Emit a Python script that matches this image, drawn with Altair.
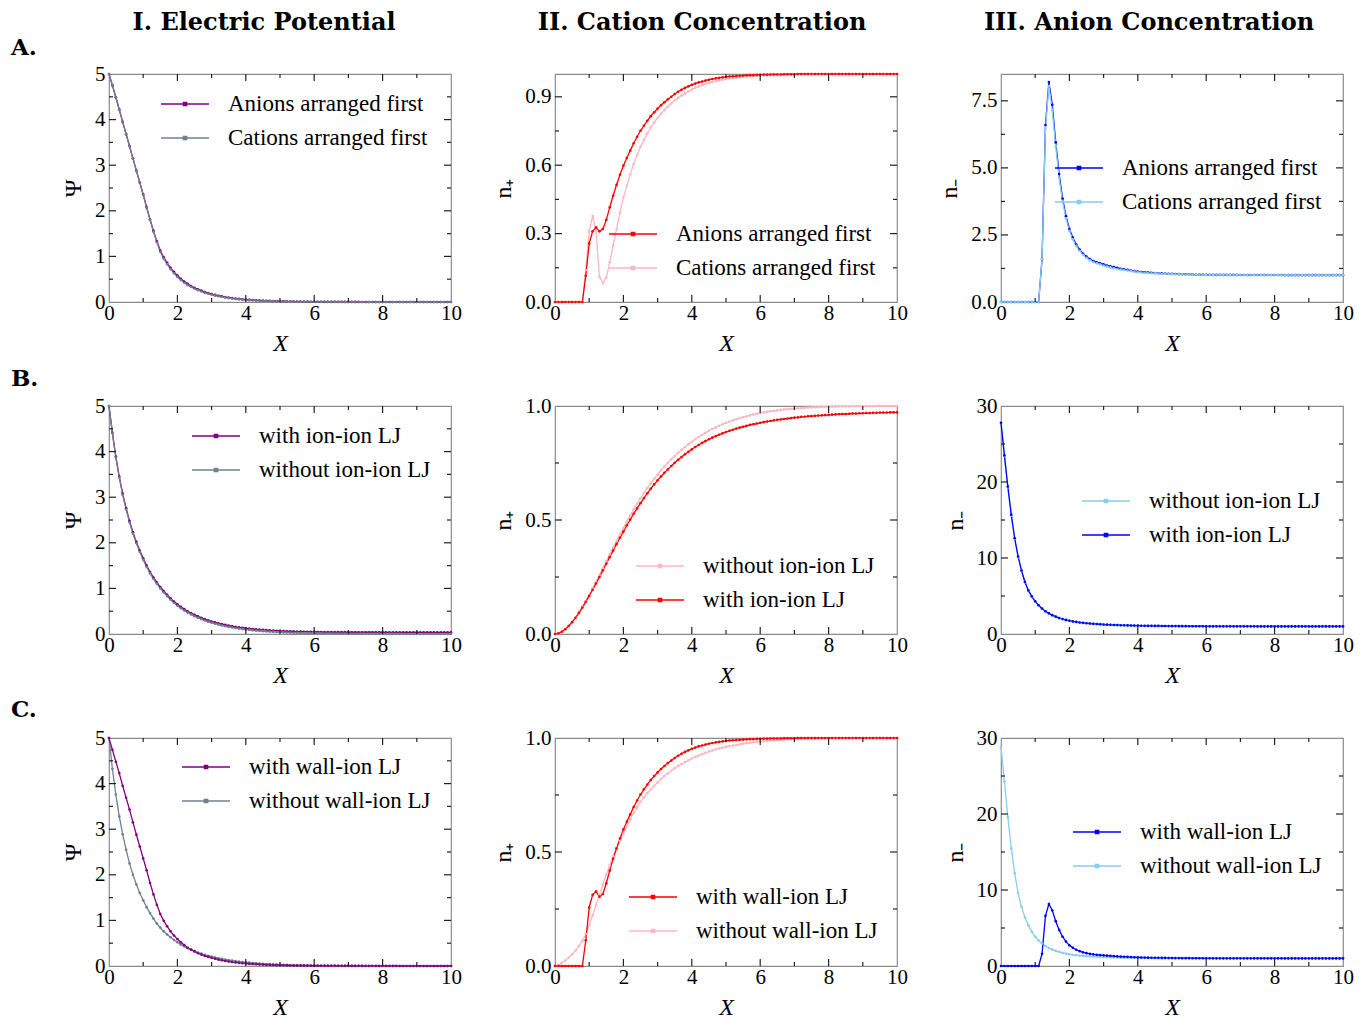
import altair as alt
import pandas as pd

# ---------------- data ----------------
X = [0.0, 0.1, 0.2, 0.3, 0.4, 0.5, 0.6, 0.7, 0.8, 0.9,
     1.0, 1.1, 1.2, 1.3, 1.4, 1.5, 1.6, 1.7, 1.8, 1.9,
     2.0, 2.1, 2.2, 2.3, 2.4, 2.5, 2.6, 2.7, 2.8, 2.9,
     3.0, 3.1, 3.2, 3.3, 3.4, 3.5, 3.6, 3.7, 3.8, 3.9,
     4.0, 4.1, 4.2, 4.3, 4.4, 4.5, 4.6, 4.7, 4.8, 4.9,
     5.0, 5.1, 5.2, 5.3, 5.4, 5.5, 5.6, 5.7, 5.8, 5.9,
     6.0, 6.1, 6.2, 6.3, 6.4, 6.5, 6.6, 6.7, 6.8, 6.9,
     7.0, 7.1, 7.2, 7.3, 7.4, 7.5, 7.6, 7.7, 7.8, 7.9,
     8.0, 8.1, 8.2, 8.3, 8.4, 8.5, 8.6, 8.7, 8.8, 8.9,
     9.0, 9.1, 9.2, 9.3, 9.4, 9.5, 9.6, 9.7, 9.8, 9.9,
     10.0]

# Row A, panel I (psi)
psi_anions_first = [
    5.00, 4.75, 4.49, 4.22, 3.95, 3.68, 3.42, 3.15, 2.88, 2.62,
    2.36, 2.08, 1.81, 1.56, 1.33, 1.13, 0.98, 0.86, 0.75, 0.66,
    0.58, 0.51, 0.45, 0.40, 0.35, 0.31, 0.28, 0.25, 0.22, 0.195,
    0.175, 0.155, 0.138, 0.122, 0.108, 0.096, 0.085, 0.076, 0.068, 0.060,
    0.054, 0.048, 0.043, 0.038, 0.034, 0.030, 0.027, 0.024, 0.021, 0.019,
    0.017, 0.015, 0.013, 0.012, 0.011, 0.010, 0.009, 0.008, 0.007, 0.006,
    0.006, 0.005, 0.005, 0.004, 0.004, 0.004, 0.003, 0.003, 0.003, 0.002,
    0.002, 0.002, 0.002, 0.002, 0.001, 0.001, 0.001, 0.001, 0.001, 0.001,
    0.001, 0.001, 0.001, 0.001, 0.001, 0.0, 0.0, 0.0, 0.0, 0.0,
    0.0, 0.0, 0.0, 0.0, 0.0, 0.0, 0.0, 0.0, 0.0, 0.0,
    0.0]
psi_cations_first = [
    5.00, 4.75, 4.49, 4.22, 3.95, 3.68, 3.42, 3.15, 2.88, 2.62,
    2.35, 2.07, 1.80, 1.54, 1.31, 1.10, 0.95, 0.83, 0.72, 0.63,
    0.55, 0.48, 0.42, 0.37, 0.33, 0.29, 0.26, 0.23, 0.20, 0.18,
    0.16, 0.14, 0.125, 0.11, 0.097, 0.086, 0.076, 0.067, 0.059, 0.052,
    0.046, 0.041, 0.036, 0.032, 0.028, 0.025, 0.022, 0.019, 0.017, 0.015,
    0.013, 0.012, 0.010, 0.009, 0.008, 0.007, 0.006, 0.006, 0.005, 0.004,
    0.004, 0.004, 0.003, 0.003, 0.003, 0.002, 0.002, 0.002, 0.002, 0.001,
    0.001, 0.001, 0.001, 0.001, 0.001, 0.0, 0.0, 0.0, 0.0, 0.0,
    0.0, 0.0, 0.0, 0.0, 0.0, 0.0, 0.0, 0.0, 0.0, 0.0,
    0.0, 0.0, 0.0, 0.0, 0.0, 0.0, 0.0, 0.0, 0.0, 0.0,
    0.0]

# Row A, panel II (n+)
nplus_anions_first = [
    0.0, 0.0, 0.0, 0.0, 0.0, 0.0, 0.0, 0.0, 0.0, 0.115,
    0.257, 0.31, 0.327, 0.31, 0.32, 0.36, 0.415, 0.466, 0.514, 0.558,
    0.598, 0.632, 0.664, 0.696, 0.725, 0.751, 0.773, 0.795, 0.815, 0.832,
    0.848, 0.863, 0.876, 0.889, 0.900, 0.912, 0.922, 0.931, 0.939, 0.946,
    0.952, 0.958, 0.963, 0.967, 0.971, 0.975, 0.978, 0.981, 0.983, 0.985,
    0.987, 0.989, 0.990, 0.991, 0.992, 0.993, 0.994, 0.995, 0.995, 0.996,
    0.996, 0.997, 0.997, 0.998, 0.998, 0.998, 0.998, 0.999, 0.999, 0.999,
    0.999, 1.0, 1.0, 1.0, 1.0, 1.0, 1.0, 1.0, 1.0, 1.0,
    1.0, 1.0, 1.0, 1.0, 1.0, 1.0, 1.0, 1.0, 1.0, 1.0,
    1.0, 1.0, 1.0, 1.0, 1.0, 1.0, 1.0, 1.0, 1.0, 1.0,
    1.0]
nplus_cations_first = [
    0.0, 0.0, 0.0, 0.0, 0.0, 0.0, 0.0, 0.0, 0.0, 0.14,
    0.31, 0.377, 0.31, 0.11, 0.083, 0.107, 0.174, 0.247, 0.32, 0.393,
    0.458, 0.509, 0.56, 0.605, 0.645, 0.681, 0.712, 0.74, 0.765, 0.787,
    0.807, 0.825, 0.842, 0.857, 0.871, 0.884, 0.895, 0.906, 0.915, 0.924,
    0.932, 0.939, 0.945, 0.951, 0.956, 0.961, 0.965, 0.969, 0.972, 0.975,
    0.978, 0.980, 0.982, 0.984, 0.986, 0.987, 0.989, 0.990, 0.991, 0.992,
    0.993, 0.994, 0.994, 0.995, 0.995, 0.996, 0.996, 0.997, 0.997, 0.997,
    0.998, 0.998, 0.998, 0.999, 0.999, 0.999, 0.999, 0.999, 0.999, 1.0,
    1.0, 1.0, 1.0, 1.0, 1.0, 1.0, 1.0, 1.0, 1.0, 1.0,
    1.0, 1.0, 1.0, 1.0, 1.0, 1.0, 1.0, 1.0, 1.0, 1.0,
    1.0]

# Row A, panel III (n-)
nminus_anions_first = [
    0.0, 0.0, 0.0, 0.0, 0.0, 0.0, 0.0, 0.0, 0.0, 0.0,
    0.0, 0.0, 1.6, 6.6, 8.2, 7.35, 5.95, 4.77, 3.86, 3.2,
    2.72, 2.40, 2.14, 1.95, 1.80, 1.69, 1.60, 1.53, 1.48, 1.44,
    1.40, 1.36, 1.33, 1.30, 1.27, 1.24, 1.22, 1.20, 1.17, 1.15,
    1.13, 1.12, 1.11, 1.10, 1.09, 1.08, 1.07, 1.065, 1.06, 1.055,
    1.05, 1.045, 1.04, 1.035, 1.03, 1.03, 1.025, 1.02, 1.02, 1.02,
    1.015, 1.015, 1.01, 1.01, 1.01, 1.01, 1.01, 1.01, 1.01, 1.01,
    1.005, 1.005, 1.005, 1.005, 1.005, 1.005, 1.005, 1.005, 1.005, 1.005,
    1.005, 1.005, 1.005, 1.0, 1.0, 1.0, 1.0, 1.0, 1.0, 1.0,
    1.0, 1.0, 1.0, 1.0, 1.0, 1.0, 1.0, 1.0, 1.0, 1.0,
    1.0]
nminus_cations_first = [
    0.0, 0.0, 0.0, 0.0, 0.0, 0.0, 0.0, 0.0, 0.0, 0.0,
    0.0, 0.0, 1.6, 6.45, 8.05, 7.15, 5.8, 4.62, 3.75, 3.12,
    2.65, 2.34, 2.09, 1.91, 1.76, 1.65, 1.56, 1.49, 1.44, 1.40,
    1.36, 1.32, 1.29, 1.26, 1.23, 1.21, 1.19, 1.17, 1.15, 1.13,
    1.11, 1.10, 1.09, 1.08, 1.07, 1.065, 1.06, 1.055, 1.05, 1.045,
    1.04, 1.035, 1.03, 1.03, 1.025, 1.02, 1.02, 1.02, 1.015, 1.015,
    1.01, 1.01, 1.01, 1.01, 1.01, 1.01, 1.01, 1.01, 1.01, 1.01,
    1.005, 1.005, 1.005, 1.005, 1.005, 1.005, 1.005, 1.005, 1.005, 1.005,
    1.0, 1.0, 1.0, 1.0, 1.0, 1.0, 1.0, 1.0, 1.0, 1.0,
    1.0, 1.0, 1.0, 1.0, 1.0, 1.0, 1.0, 1.0, 1.0, 1.0,
    1.0]

# Row B, panel I (psi)
psi_with_ionion = [
    5.00, 4.41, 3.89, 3.45, 3.08, 2.76, 2.48, 2.23, 2.02, 1.83,
    1.66, 1.50, 1.36, 1.24, 1.13, 1.03, 0.94, 0.86, 0.78, 0.71,
    0.65, 0.595, 0.545, 0.50, 0.46, 0.42, 0.385, 0.355, 0.325, 0.30,
    0.275, 0.255, 0.235, 0.217, 0.20, 0.185, 0.171, 0.158, 0.147, 0.137,
    0.127, 0.118, 0.110, 0.103, 0.096, 0.090, 0.085, 0.080, 0.075, 0.071,
    0.067, 0.064, 0.061, 0.058, 0.056, 0.054, 0.052, 0.050, 0.049, 0.047,
    0.046, 0.045, 0.044, 0.043, 0.042, 0.042, 0.041, 0.041, 0.040, 0.040,
    0.040, 0.039, 0.039, 0.039, 0.039, 0.039, 0.038, 0.038, 0.038, 0.038,
    0.038, 0.037, 0.037, 0.037, 0.037, 0.037, 0.036, 0.036, 0.036, 0.036,
    0.036, 0.036, 0.035, 0.035, 0.035, 0.035, 0.035, 0.035, 0.035, 0.035,
    0.035]
psi_without_ionion = [
    5.00, 4.40, 3.87, 3.43, 3.05, 2.73, 2.45, 2.20, 1.99, 1.80,
    1.63, 1.47, 1.33, 1.21, 1.10, 1.00, 0.91, 0.83, 0.75, 0.68,
    0.62, 0.565, 0.515, 0.47, 0.43, 0.39, 0.355, 0.325, 0.295, 0.27,
    0.245, 0.225, 0.205, 0.187, 0.17, 0.155, 0.142, 0.129, 0.118, 0.108,
    0.098, 0.089, 0.081, 0.074, 0.068, 0.062, 0.056, 0.051, 0.047, 0.043,
    0.039, 0.035, 0.032, 0.029, 0.027, 0.024, 0.022, 0.020, 0.018, 0.017,
    0.015, 0.014, 0.013, 0.012, 0.011, 0.010, 0.009, 0.008, 0.007, 0.007,
    0.006, 0.006, 0.005, 0.005, 0.004, 0.004, 0.004, 0.003, 0.003, 0.003,
    0.003, 0.002, 0.002, 0.002, 0.002, 0.002, 0.001, 0.001, 0.001, 0.001,
    0.001, 0.001, 0.001, 0.001, 0.001, 0.0, 0.0, 0.0, 0.0, 0.0,
    0.0]

# Row B, panel II (n+)
nplus_without_ionion = [
    0.0, 0.003, 0.01, 0.021, 0.035, 0.052, 0.072, 0.094, 0.118, 0.144,
    0.171, 0.2, 0.229, 0.259, 0.289, 0.319, 0.349, 0.379, 0.408, 0.437,
    0.465, 0.493, 0.52, 0.546, 0.571, 0.595, 0.618, 0.64, 0.661, 0.681,
    0.70, 0.718, 0.735, 0.751, 0.766, 0.781, 0.795, 0.808, 0.82, 0.832,
    0.843, 0.854, 0.864, 0.873, 0.882, 0.891, 0.899, 0.906, 0.913, 0.92,
    0.926, 0.932, 0.937, 0.942, 0.947, 0.951, 0.955, 0.959, 0.963, 0.966,
    0.969, 0.972, 0.974, 0.977, 0.979, 0.981, 0.983, 0.985, 0.986, 0.988,
    0.989, 0.99, 0.991, 0.992, 0.993, 0.994, 0.995, 0.995, 0.996, 0.996,
    0.997, 0.997, 0.997, 0.998, 0.998, 0.998, 0.998, 0.999, 0.999, 0.999,
    0.999, 0.999, 0.999, 0.999, 1.0, 1.0, 1.0, 1.0, 1.0, 1.0,
    1.0]
nplus_with_ionion = [
    0.0, 0.003, 0.01, 0.021, 0.035, 0.052, 0.071, 0.093, 0.116, 0.141,
    0.167, 0.194, 0.222, 0.25, 0.279, 0.308, 0.337, 0.366, 0.394, 0.422,
    0.449, 0.476, 0.502, 0.527, 0.551, 0.574, 0.596, 0.617, 0.637, 0.656,
    0.674, 0.691, 0.707, 0.722, 0.737, 0.751, 0.764, 0.776, 0.788, 0.799,
    0.81, 0.82, 0.829, 0.838, 0.846, 0.854, 0.861, 0.868, 0.874, 0.88,
    0.886, 0.891, 0.896, 0.901, 0.905, 0.909, 0.913, 0.917, 0.92, 0.923,
    0.926, 0.929, 0.932, 0.934, 0.937, 0.939, 0.941, 0.943, 0.945, 0.947,
    0.949, 0.95, 0.952, 0.953, 0.955, 0.956, 0.957, 0.958, 0.959, 0.96,
    0.961, 0.962, 0.963, 0.964, 0.965, 0.965, 0.966, 0.967, 0.967, 0.968,
    0.968, 0.969, 0.969, 0.97, 0.97, 0.971, 0.971, 0.971, 0.972, 0.972,
    0.972]

# Row B, panel III (n-)
nminus_without_ionion = [
    27.8, 23.4, 19.3, 15.6, 12.5, 10.1, 8.3, 6.8, 5.7, 4.9,
    4.25, 3.74, 3.32, 2.97, 2.69, 2.45, 2.25, 2.08, 1.94, 1.82,
    1.72, 1.64, 1.57, 1.51, 1.46, 1.41, 1.37, 1.33, 1.30, 1.27,
    1.24, 1.22, 1.20, 1.18, 1.16, 1.15, 1.14, 1.13, 1.12, 1.11,
    1.10, 1.09, 1.08, 1.07, 1.07, 1.06, 1.06, 1.05, 1.05, 1.04,
    1.04, 1.04, 1.03, 1.03, 1.03, 1.02, 1.02, 1.02, 1.02, 1.02,
    1.01, 1.01, 1.01, 1.01, 1.01, 1.01, 1.01, 1.01, 1.01, 1.01,
    1.01, 1.01, 1.01, 1.01, 1.01, 1.0, 1.0, 1.0, 1.0, 1.0,
    1.0, 1.0, 1.0, 1.0, 1.0, 1.0, 1.0, 1.0, 1.0, 1.0,
    1.0, 1.0, 1.0, 1.0, 1.0, 1.0, 1.0, 1.0, 1.0, 1.0,
    1.0]
nminus_with_ionion = [
    27.8, 23.5, 19.4, 15.7, 12.6, 10.2, 8.35, 6.85, 5.74, 4.95,
    4.30, 3.78, 3.35, 3.00, 2.72, 2.48, 2.28, 2.11, 1.97, 1.85,
    1.75, 1.66, 1.59, 1.52, 1.47, 1.42, 1.38, 1.34, 1.31, 1.28,
    1.25, 1.23, 1.21, 1.19, 1.17, 1.15, 1.14, 1.13, 1.12, 1.11,
    1.10, 1.09, 1.08, 1.07, 1.07, 1.06, 1.06, 1.05, 1.05, 1.04,
    1.04, 1.04, 1.03, 1.03, 1.03, 1.02, 1.02, 1.02, 1.02, 1.02,
    1.01, 1.01, 1.01, 1.01, 1.01, 1.01, 1.01, 1.01, 1.01, 1.01,
    1.01, 1.01, 1.01, 1.01, 1.01, 1.0, 1.0, 1.0, 1.0, 1.0,
    1.0, 1.0, 1.0, 1.0, 1.0, 1.0, 1.0, 1.0, 1.0, 1.0,
    1.0, 1.0, 1.0, 1.0, 1.0, 1.0, 1.0, 1.0, 1.0, 1.0,
    1.0]

# Row C, panel I (psi)
psi_with_wall = [
    5.00, 4.74, 4.48, 4.23, 3.95, 3.69, 3.43, 3.15, 2.88, 2.62,
    2.36, 2.10, 1.82, 1.57, 1.34, 1.14, 0.99, 0.87, 0.76, 0.67,
    0.59, 0.52, 0.46, 0.40, 0.36, 0.32, 0.28, 0.25, 0.22, 0.20,
    0.18, 0.16, 0.14, 0.125, 0.11, 0.098, 0.087, 0.078, 0.069, 0.061,
    0.055, 0.049, 0.043, 0.039, 0.034, 0.031, 0.027, 0.024, 0.022, 0.019,
    0.017, 0.015, 0.014, 0.012, 0.011, 0.010, 0.009, 0.008, 0.007, 0.006,
    0.006, 0.005, 0.005, 0.004, 0.004, 0.003, 0.003, 0.003, 0.002, 0.002,
    0.002, 0.002, 0.002, 0.002, 0.002, 0.001, 0.001, 0.001, 0.001, 0.001,
    0.001, 0.001, 0.001, 0.001, 0.001, 0.0, 0.0, 0.0, 0.0, 0.0,
    0.0, 0.0, 0.0, 0.0, 0.0, 0.0, 0.0, 0.0, 0.0, 0.0,
    0.0]
psi_without_wall = [
    5.00, 4.32, 3.76, 3.28, 2.89, 2.55, 2.25, 2.00, 1.79, 1.60,
    1.44, 1.29, 1.16, 1.04, 0.93, 0.84, 0.76, 0.69, 0.63, 0.57,
    0.52, 0.47, 0.43, 0.39, 0.355, 0.325, 0.295, 0.27, 0.245, 0.225,
    0.205, 0.187, 0.17, 0.155, 0.141, 0.128, 0.117, 0.106, 0.097, 0.088,
    0.08, 0.073, 0.066, 0.06, 0.055, 0.05, 0.045, 0.041, 0.037, 0.034,
    0.031, 0.028, 0.025, 0.023, 0.021, 0.019, 0.017, 0.016, 0.014, 0.013,
    0.012, 0.011, 0.01, 0.009, 0.008, 0.007, 0.007, 0.006, 0.005, 0.005,
    0.005, 0.004, 0.004, 0.004, 0.003, 0.003, 0.003, 0.003, 0.002, 0.002,
    0.002, 0.002, 0.002, 0.002, 0.002, 0.001, 0.001, 0.001, 0.001, 0.001,
    0.001, 0.001, 0.001, 0.001, 0.001, 0.0, 0.0, 0.0, 0.0, 0.0,
    0.0]

# Row C, panel II (n+)
nplus_with_wall = [
    0.0, 0.0, 0.0, 0.0, 0.0, 0.0, 0.0, 0.0, 0.0, 0.113,
    0.257, 0.312, 0.327, 0.304, 0.316, 0.363, 0.418, 0.47, 0.516, 0.559,
    0.599, 0.633, 0.665, 0.697, 0.726, 0.752, 0.775, 0.796, 0.816, 0.833,
    0.849, 0.864, 0.877, 0.89, 0.901, 0.912, 0.922, 0.931, 0.939, 0.946,
    0.952, 0.958, 0.963, 0.967, 0.971, 0.975, 0.978, 0.981, 0.983, 0.985,
    0.987, 0.989, 0.990, 0.991, 0.992, 0.993, 0.994, 0.995, 0.995, 0.996,
    0.996, 0.997, 0.997, 0.998, 0.998, 0.998, 0.998, 0.999, 0.999, 0.999,
    0.999, 1.0, 1.0, 1.0, 1.0, 1.0, 1.0, 1.0, 1.0, 1.0,
    1.0, 1.0, 1.0, 1.0, 1.0, 1.0, 1.0, 1.0, 1.0, 1.0,
    1.0, 1.0, 1.0, 1.0, 1.0, 1.0, 1.0, 1.0, 1.0, 1.0,
    1.0]
nplus_without_wall = [
    0.0, 0.004, 0.014, 0.024, 0.036, 0.05, 0.068, 0.088, 0.11, 0.14,
    0.178, 0.222, 0.268, 0.313, 0.357, 0.40, 0.442, 0.482, 0.518, 0.55,
    0.58, 0.613, 0.643, 0.671, 0.697, 0.72, 0.74, 0.758, 0.775, 0.79,
    0.805, 0.82, 0.833, 0.845, 0.856, 0.867, 0.877, 0.886, 0.894, 0.902,
    0.91, 0.917, 0.923, 0.929, 0.935, 0.94, 0.945, 0.95, 0.954, 0.958,
    0.961, 0.964, 0.967, 0.97, 0.972, 0.975, 0.977, 0.979, 0.981, 0.983,
    0.985, 0.986, 0.988, 0.989, 0.99, 0.991, 0.992, 0.993, 0.994, 0.994,
    0.995, 0.995, 0.996, 0.996, 0.997, 0.997, 0.997, 0.998, 0.998, 0.998,
    0.998, 0.999, 0.999, 0.999, 0.999, 0.999, 0.999, 0.999, 0.999, 0.999,
    0.999, 0.999, 0.999, 0.999, 0.999, 1.0, 1.0, 1.0, 1.0, 1.0,
    1.0]

# Row C, panel III (n-)
nminus_with_wall = [
    0.0, 0.0, 0.0, 0.0, 0.0, 0.0, 0.0, 0.0, 0.0, 0.0,
    0.0, 0.0, 1.6, 6.6, 8.15, 7.3, 5.9, 4.75, 3.85, 3.2,
    2.72, 2.40, 2.14, 1.95, 1.80, 1.69, 1.60, 1.53, 1.48, 1.44,
    1.40, 1.36, 1.33, 1.30, 1.27, 1.24, 1.22, 1.20, 1.17, 1.15,
    1.13, 1.12, 1.11, 1.10, 1.09, 1.08, 1.07, 1.065, 1.06, 1.055,
    1.05, 1.045, 1.04, 1.035, 1.03, 1.03, 1.025, 1.02, 1.02, 1.02,
    1.015, 1.015, 1.01, 1.01, 1.01, 1.01, 1.01, 1.01, 1.01, 1.01,
    1.005, 1.005, 1.005, 1.005, 1.005, 1.005, 1.005, 1.005, 1.005, 1.005,
    1.005, 1.005, 1.005, 1.0, 1.0, 1.0, 1.0, 1.0, 1.0, 1.0,
    1.0, 1.0, 1.0, 1.0, 1.0, 1.0, 1.0, 1.0, 1.0, 1.0,
    1.0]
nminus_without_wall = [
    28.8, 24.3, 19.6, 15.5, 12.2, 9.6, 7.8, 6.4, 5.35, 4.5,
    3.85, 3.35, 2.95, 2.63, 2.37, 2.16, 1.99, 1.85, 1.73, 1.63,
    1.55, 1.48, 1.42, 1.37, 1.33, 1.29, 1.26, 1.23, 1.21, 1.19,
    1.17, 1.15, 1.14, 1.12, 1.11, 1.10, 1.09, 1.08, 1.07, 1.07,
    1.06, 1.06, 1.05, 1.05, 1.04, 1.04, 1.04, 1.03, 1.03, 1.03,
    1.03, 1.02, 1.02, 1.02, 1.02, 1.02, 1.02, 1.02, 1.02, 1.02,
    1.02, 1.02, 1.01, 1.01, 1.01, 1.01, 1.01, 1.01, 1.01, 1.01,
    1.01, 1.01, 1.01, 1.01, 1.01, 1.0, 1.0, 1.0, 1.0, 1.0,
    1.0, 1.0, 1.0, 1.0, 1.0, 1.0, 1.0, 1.0, 1.0, 1.0,
    1.0, 1.0, 1.0, 1.0, 1.0, 1.0, 1.0, 1.0, 1.0, 1.0,
    1.0]

COL_TITLES = ["I. Electric Potential", "II. Cation Concentration", "III. Anion Concentration"]
ROW_LABELS = ["A.", "B.", "C."]
LBL_A = ["Anions arranged first", "Cations arranged first"]
LBL_B = ["with ion-ion LJ", "without ion-ion LJ"]
LBL_C = ["with wall-ion LJ", "without wall-ion LJ"]
X_MAJOR = [0, 2, 4, 6, 8, 10]
X_MAJOR_IN = [2, 4, 6, 8]
X_MINOR = [1, 3, 5, 7, 9]

# ---------------- styling ----------------
FONT = "Liberation Serif"
TITLE_FONT = "DejaVu Serif"
W, H = 342, 228
PURPLE, GRAY, RED, PINK, BLUE, SKY = "#800080", "#708090", "#ff0000", "#ffb6c1", "#0000ff", "#87ceeb"
LEG_PATH = "M-1,0H1M-0.07,-0.07H0.07V0.07H-0.07Z"
TICK_COLOR = "#222222"
MAJ, MIN = 7, 4


def panel(series, legend_order, colors, draw_order, ydom, ymaj, ymin, yfmt, ytitle,
          lx, ly, title=None, title_offset=0, title_dx=0):
    recs = []
    for name in draw_order:
        for xv, yv in zip(X, series[name]):
            recs.append({"X": xv, "v": yv, "s": name})
    df = pd.DataFrame(recs)
    xs = alt.Scale(domain=[0, 10], nice=False, zero=False)
    ys = alt.Scale(domain=ydom, nice=False, zero=False)
    xaxis = alt.Axis(
        values=X_MAJOR, format="d", title="X", labelFlush=False, ticks=False, tickSize=0,
        domain=False, grid=False, labelFont=FONT, labelFontSize=21, labelColor="black",
        labelPadding=0, labelOverlap=False, titleFont=FONT, titleFontSize=24,
        titleFontStyle="italic", titleFontWeight="normal", titleColor="black", titlePadding=8)
    yaxis = alt.Axis(
        values=ymaj, format=yfmt, title=ytitle, ticks=False, tickSize=0, domain=False,
        grid=False, labelFont=FONT, labelFontSize=21, labelColor="black", labelPadding=4,
        labelOverlap=False, labelFlush=False, titleFont=FONT, titleFontSize=24,
        titleFontWeight="normal", titleColor="black", titlePadding=9)

    line = alt.Chart(df).mark_line(
        strokeWidth=1.3,
        point=alt.OverlayMarkDef(filled=True, size=7, opacity=1),
    ).encode(
        x=alt.X("X:Q", scale=xs, axis=xaxis),
        y=alt.Y("v:Q", scale=ys, axis=yaxis),
        color=alt.Color("s:N", scale=alt.Scale(domain=legend_order, range=colors),
                        legend=alt.Legend(
                            title=None, orient="none", legendX=lx, legendY=ly,
                            symbolType=LEG_PATH, symbolSize=2304, symbolStrokeWidth=1.3,
                            labelFont=FONT, labelFontSize=23, labelColor="black",
                            labelOffset=18, labelLimit=500, clipHeight=34, rowPadding=0,
                            padding=0, direction="vertical")),
    )

    layers = [line]
    inner_y = [v for v in ymaj if ydom[0] < v < ydom[1]]

    def xt(vals, length, top):
        d = pd.DataFrame({"X": vals})
        if top:
            yy, yy2 = alt.value(0), alt.value(length)
        else:
            yy, yy2 = alt.value(H), alt.value(H - length)
        return alt.Chart(d).mark_rule(color=TICK_COLOR, strokeWidth=1.2).encode(
            x=alt.X("X:Q", scale=xs, axis=xaxis), y=yy, y2=yy2)

    def yt(vals, length, right):
        d = pd.DataFrame({"v": vals})
        if right:
            xx, xx2 = alt.value(W), alt.value(W - length)
        else:
            xx, xx2 = alt.value(0), alt.value(length)
        return alt.Chart(d).mark_rule(color=TICK_COLOR, strokeWidth=1.2).encode(
            y=alt.Y("v:Q", scale=ys, axis=yaxis), x=xx, x2=xx2)

    for top in (False, True):
        layers.append(xt(X_MAJOR_IN, MAJ, top))
        layers.append(xt(X_MINOR, MIN, top))
    for right in (False, True):
        layers.append(yt(inner_y, MAJ, right))
        layers.append(yt(ymin, MIN, right))

    props = dict(width=W, height=H)
    if title:
        props["title"] = alt.TitleParams(title, font=TITLE_FONT, fontSize=24, fontWeight="bold",
                                         color="black", anchor="middle", offset=title_offset,
                                         dx=title_dx)
    return alt.layer(*layers).properties(**props)


pA1 = panel({LBL_A[0]: psi_anions_first, LBL_A[1]: psi_cations_first}, LBL_A, [PURPLE, GRAY],
            LBL_A, [0, 5], [0, 1, 2, 3, 4, 5], [0.5, 1.5, 2.5, 3.5, 4.5], "d", "Ψ",
            51, 13, COL_TITLES[0], 28, -16)
pA2 = panel({LBL_A[0]: nplus_anions_first, LBL_A[1]: nplus_cations_first}, LBL_A, [RED, PINK],
            [LBL_A[1], LBL_A[0]], [0, 1.0], [0, 0.3, 0.6, 0.9], [0.15, 0.45, 0.75], ".1f", "n₊",
            53, 143, COL_TITLES[1], 36, -24)
pA3 = panel({LBL_A[0]: nminus_anions_first, LBL_A[1]: nminus_cations_first}, LBL_A, [BLUE, SKY],
            LBL_A, [0, 8.5], [0, 2.5, 5.0, 7.5], [1.25, 3.75, 6.25], ".1f", "n₋",
            53, 77, COL_TITLES[2], 38, -23)

pB1 = panel({LBL_B[0]: psi_with_ionion, LBL_B[1]: psi_without_ionion}, LBL_B, [PURPLE, GRAY],
            LBL_B, [0, 5], [0, 1, 2, 3, 4, 5], [0.5, 1.5, 2.5, 3.5, 4.5], "d", "Ψ", 82, 13)
pB2 = panel({LBL_B[0]: nplus_with_ionion, LBL_B[1]: nplus_without_ionion},
            [LBL_B[1], LBL_B[0]], [PINK, RED], [LBL_B[1], LBL_B[0]],
            [0, 1.0], [0, 0.5, 1.0], [0.25, 0.75], ".1f", "n₊", 80, 143)
pB3 = panel({LBL_B[0]: nminus_with_ionion, LBL_B[1]: nminus_without_ionion},
            [LBL_B[1], LBL_B[0]], [SKY, BLUE], [LBL_B[1], LBL_B[0]],
            [0, 30], [0, 10, 20, 30], [5, 15, 25], "d", "n₋", 80, 78)

pC1 = panel({LBL_C[0]: psi_with_wall, LBL_C[1]: psi_without_wall}, LBL_C, [PURPLE, GRAY],
            [LBL_C[1], LBL_C[0]], [0, 5], [0, 1, 2, 3, 4, 5], [0.5, 1.5, 2.5, 3.5, 4.5], "d", "Ψ",
            72, 12)
pC2 = panel({LBL_C[0]: nplus_with_wall, LBL_C[1]: nplus_without_wall}, LBL_C, [RED, PINK],
            [LBL_C[1], LBL_C[0]], [0, 1.0], [0, 0.5, 1.0], [0.25, 0.75], ".1f", "n₊", 73, 142)
pC3 = panel({LBL_C[0]: nminus_with_wall, LBL_C[1]: nminus_without_wall}, LBL_C, [BLUE, SKY],
            [LBL_C[1], LBL_C[0]], [0, 30], [0, 10, 20, 30], [5, 15, 25], "d", "n₋", 71, 77)


def row(panels, label, offset, dx):
    return alt.hconcat(*panels, spacing=104, bounds="flush",
                       title=alt.TitleParams(label, font=TITLE_FONT, fontSize=23, fontWeight="bold",
                                             color="black", anchor="start", orient="top",
                                             offset=offset, dx=dx)
                       ).resolve_scale(color="independent")


chart = alt.vconcat(
    row([pA1, pA2, pA3], ROW_LABELS[0], -50, -50),
    row([pB1, pB2, pB3], ROW_LABELS[1], 3, -50),
    row([pC1, pC2, pC3], ROW_LABELS[2], 4, -50),
    spacing=332, bounds="flush",
).resolve_scale(color="independent").properties(
    padding={"left": 2, "top": 2, "right": 5, "bottom": 5}
).configure_view(
    stroke="#8c8c8c", strokeWidth=1.2
).configure_axis(
    labelFont=FONT, titleFont=FONT
).configure_legend(
    labelFont=FONT
)

chart.save("out.html", embed_options={"renderer": "svg", "actions": False})
